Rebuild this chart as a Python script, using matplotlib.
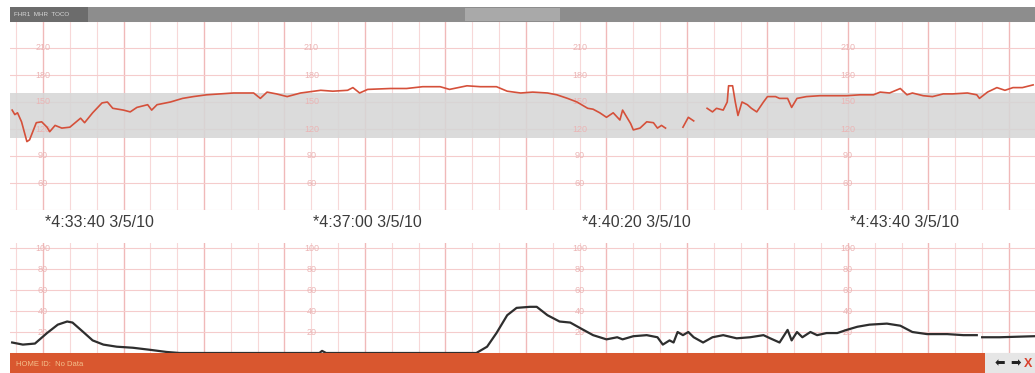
import numpy as np
import matplotlib.pyplot as plt
from matplotlib.patches import Rectangle
from matplotlib.transforms import blended_transform_factory

plt.rcParams['font.family'] = ['Liberation Sans', 'DejaVu Sans']

W, H = 1035, 373
nan = np.nan

# fetal heart rate, seconds from 04:33:40 (nan = signal loss)
fhr_t = [-23, -21, -19, -16, -12, -10, -5, -1, 3, 5, 9, 14, 20, 28, 31, 37, 44, 48,
         52, 60, 65, 70, 78, 81, 85, 95, 104, 112, 122, 132, 142, 157, 162, 167,
         174, 182, 192, 207, 216, 227, 231, 236, 242, 259, 271, 283, 296, 303,
         316, 326, 338, 346, 356, 365, 376, 383, 391, 398, 406, 410, 415, 420,
         425, 430, 432, 438, 440, 445, 450, 455, 458, 461, 464, 470,
         477, 481, 485, 490,
         495, 499, 502, 507, 510, 511, 514, 516, 518, 521, 525, 528, 532, 537,
         540, 546, 549, 555, 558, 562, 569, 579, 589, 599, 609, 619, 624, 631,
         639, 644, 648, 656, 663, 671, 678, 689, 696, 698, 704, 711, 717, 723,
         730, 738]
fhr_bpm = [141, 136, 138, 128, 106, 108, 127, 128, 122, 117, 124, 121, 122, 132, 127,
           138, 149, 150, 143, 141, 139, 144, 147, 141, 147, 150, 154, 156, 158,
           159, 160, 160, 154, 161, 159, 156, 160, 163, 162, 163, 166, 160, 164,
           165, 165, 167, 167, 164, 168, 167, 167, 162, 160, 161, 160, 158, 154,
           150, 143, 142, 138, 133, 138, 130, 141, 126, 119, 121, 128, 127, 121,
           124, 121, nan,
           122, 133, 129, nan,
           143, 139, 143, 141, 150, 168, 168, 150, 135, 150, 147, 143, 139, 150,
           156, 156, 154, 154, 144, 154, 156, 157, 157, 157, 158, 158, 161, 160,
           165, 158, 160, 157, 156, 159, 159, 160, 158, 154, 161, 166, 163, 166,
           166, 169]

# uterine activity
ua_t = [-23, -15, -6, 3, 11, 18, 22, 30, 37, 45, 55, 67, 80, 92, 102, 206, 208, 211,
        323, 331, 338, 346, 353, 363, 368, 376, 385, 393, 400, 410, 420, 428, 432,
        440, 450, 458, 462, 467, 470, 473, 477, 481, 485, 492, 499, 507, 517, 527,
        537, 542, 549, 555, 558, 562, 566, 572, 577, 584, 592, 599, 607, 616, 629,
        639, 648, 659, 674, 686, 696, 697,
        700, 713, 739]
ua_val = [10, 8, 9, 19, 27, 30, 29, 20, 12, 8, 6, 5, 3, 1, 0, 0, 2, 0,
          0, 6, 19, 36, 43, 44, 44, 36, 30, 29, 24, 17, 13, 15, 13,
          16, 17, 15, 8, 12, 10, 20, 17, 20, 15, 10, 15, 17, 14, 15,
          17, 14, 10, 22, 12, 20, 15, 20, 17, 19, 19, 22, 25, 27, 28,
          26, 20, 18, 18, 17, 17, nan,
          15, 15, 16]

stamp_t = [0, 200, 400, 600]
stamp_labels = ['*4:33:40 3/5/10', '*4:37:00 3/5/10', '*4:40:20 3/5/10', '*4:43:40 3/5/10']
fhr_ticks = [210, 180, 150, 120, 90, 60]
ua_ticks = [100, 80, 60, 40, 20]
normal_band = (110, 160)

t0, t1 = -24.6, 739.4

fig = plt.figure(figsize=(W / 100, H / 100), dpi=100)
fig.patch.set_facecolor('white')

ax_fhr = fig.add_axes([10 / W, 1 - 210 / H, 1025 / W, 189 / H])
ax_ua = fig.add_axes([10 / W, 20 / H, 1025 / W, 110 / H])
ax_fhr.set_ylim(30, 240)
ax_ua.set_ylim(0, 104.8)


def paper_grid(ax, hlines):
    ax.set_xlim(t0, t1)
    for t in np.arange(-20, t1, 20):
        major = (t % 60 == 0)
        ax.axvline(t, color='#f0b9b9' if major else '#f7d8d8',
                   lw=1.0 if major else 0.8, zorder=1)
    for v in hlines:
        ax.axhline(v, color='#f5cccc', lw=0.8, zorder=1)
    ax.set_axis_off()


paper_grid(ax_fhr, range(30, 241, 30))
paper_grid(ax_ua, range(0, 101, 20))

ax_fhr.axhspan(*normal_band, color='#d6d6d6', alpha=0.88, lw=0, zorder=2)

for t in stamp_t:
    for v in fhr_ticks:
        ax_fhr.text(t, v, str(v), ha='center', va='center', fontsize=6.5,
                    color='#ebb5b5', zorder=3)
    for v in ua_ticks:
        ax_ua.text(t, v, str(v), ha='center', va='center', fontsize=6.5,
                   color='#ebb5b5', zorder=3)

ax_fhr.plot(fhr_t, fhr_bpm, color='#d5503a', lw=1.2, zorder=4)
ax_ua.plot(ua_t, ua_val, color='#2e2e2e', lw=1.6, zorder=4)

trans = blended_transform_factory(ax_fhr.transData, ax_fhr.transAxes)
for t, s in zip(stamp_t, stamp_labels):
    ax_fhr.text(t + 1.5, -0.064, s, transform=trans, ha='left', va='center',
                fontsize=11.5, color='#3c3c3c', clip_on=False)


def bar(x0, y0, x1, y1, color, z=5):
    fig.add_artist(Rectangle((x0 / W, 1 - y1 / H), (x1 - x0) / W, (y1 - y0) / H,
                             transform=fig.transFigure, facecolor=color,
                             edgecolor='none', zorder=z))


# monitor title strip
bar(10, 7, 1035, 22, '#8d8d8d')
bar(10, 7, 88, 22, '#6c6c6c', 6)
bar(465, 8, 560, 21, '#a9a9a9', 6)
fig.text(14 / W, 1 - 15 / H, 'FHR1  MHR  TOCO', fontsize=4.5, color='#d8d8d8',
         va='center', ha='left', zorder=7)

# status strip
bar(10, 353, 985, 373, '#d9572f')
bar(985, 353, 1035, 373, '#e6e6e6')
fig.text(16 / W, 1 - 364 / H, 'HOME ID:  No Data', fontsize=5.5, color='#f3c08c',
         va='center', ha='left', zorder=7)
fig.text(1000 / W, 1 - 364 / H, '\u2b05', fontsize=9, family='DejaVu Sans',
         color='#222222', va='center', ha='center', zorder=7)
fig.text(1016 / W, 1 - 364 / H, '\u27a1', fontsize=9, family='DejaVu Sans',
         color='#222222', va='center', ha='center', zorder=7)
fig.text(1028 / W, 1 - 364 / H, 'X', fontsize=9, fontweight='bold',
         color='#d9402c', va='center', ha='center', zorder=7)

fig.savefig('out.png', dpi=100, facecolor='white')
